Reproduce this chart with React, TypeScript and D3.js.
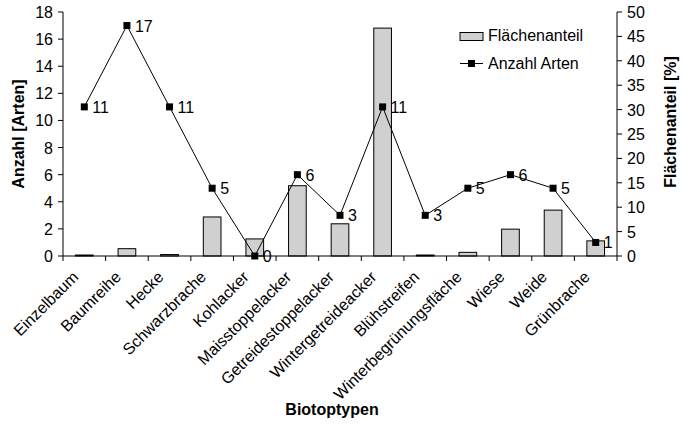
import React from "react";
import * as d3 from "d3";

const categories = [
  "Einzelbaum", "Baumreihe", "Hecke", "Schwarzbrache", "Kohlacker", "Maisstoppelacker",
  "Getreidestoppelacker", "Wintergetreideacker", "Blühstreifen", "Winterbegrünungsfläche",
  "Wiese", "Weide", "Grünbrache",
];
const flaechenanteil = [0.2, 1.5, 0.3, 8.0, 3.5, 14.4, 6.6, 46.7, 0.2, 0.75, 5.5, 9.4, 3.1];
const anzahlArten = [11, 17, 11, 5, 0, 6, 3, 11, 3, 5, 6, 5, 1];
const leftTicks = [0, 2, 4, 6, 8, 10, 12, 14, 16, 18];
const rightTicks = [0, 5, 10, 15, 20, 25, 30, 35, 40, 45, 50];

const W = 684, H = 428;
const L = 63, R = 617, T = 12, B = 256;
const FONT = "Liberation Sans, Arial, sans-serif";
const FS = 16;

export default function App() {
  const x = d3.scaleBand<string>().domain(categories).range([L, R]).paddingInner(0).paddingOuter(0);
  const yL = d3.scaleLinear().domain([0, 18]).range([B, T]);
  const yR = d3.scaleLinear().domain([0, 50]).range([B, T]);
  const bw = x.bandwidth() * 0.415;
  const cx = (c: string) => (x(c) as number) + x.bandwidth() / 2;
  const line = d3.line<number>().x((_, i) => cx(categories[i])).y((d) => yL(d));

  return (
    <svg width={W} height={H} style={{ position: "absolute", left: 0, top: 0, background: "#fff" }} fontFamily={FONT}>
      <rect x={0} y={0} width={W} height={H} fill="#fff" />
      {/* bars */}
      {flaechenanteil.map((v, i) => (
        <rect key={i} x={cx(categories[i]) - bw / 2} y={yR(v)} width={bw} height={B - yR(v)}
          fill="#d0d0d0" stroke="#000" strokeWidth={1} />
      ))}
      {/* axes */}
      <line x1={L} x2={L} y1={T} y2={B} stroke="#000" />
      <line x1={R} x2={R} y1={T} y2={B} stroke="#000" />
      <line x1={L} x2={R} y1={B} y2={B} stroke="#000" />
      {leftTicks.map((t) => (
        <g key={t}>
          <line x1={L - 5} x2={L} y1={yL(t)} y2={yL(t)} stroke="#000" />
          <text x={L - 10} y={yL(t) + 6} textAnchor="end" fontSize={FS}>{t}</text>
        </g>
      ))}
      {rightTicks.map((t) => (
        <g key={t}>
          <line x1={R} x2={R + 5} y1={yR(t)} y2={yR(t)} stroke="#000" />
          <text x={R + 10} y={yR(t) + 6} textAnchor="start" fontSize={FS}>{t}</text>
        </g>
      ))}
      {categories.map((c, i) => (
        <line key={i} x1={x(c) as number} x2={x(c) as number} y1={B} y2={B + 5} stroke="#000" />
      ))}
      <line x1={R} x2={R} y1={B} y2={B + 5} stroke="#000" />
      {/* x labels */}
      {categories.map((c) => (
        <text key={c} transform={`translate(${cx(c) - 5},${B + 22}) rotate(-45)`} textAnchor="end" fontSize={FS}>{c}</text>
      ))}
      {/* line */}
      <path d={line(anzahlArten) || ""} fill="none" stroke="#000" strokeWidth={1} />
      {anzahlArten.map((v, i) => (
        <g key={i}>
          <rect x={cx(categories[i]) - 3.5} y={yL(v) - 3.5} width={7} height={7} fill="#000" />
          <text x={cx(categories[i]) + 8} y={yL(v) + 6} fontSize={FS}>{v}</text>
        </g>
      ))}
      {/* axis titles */}
      <text transform={`translate(24,134) rotate(-90)`} textAnchor="middle" fontSize={FS} fontWeight="bold">Anzahl [Arten]</text>
      <text transform={`translate(676,122) rotate(-90)`} textAnchor="middle" fontSize={FS} fontWeight="bold">Flächenanteil [%]</text>
      <text x={332} y={415} textAnchor="middle" fontSize={FS} fontWeight="bold">Biotoptypen</text>
      {/* legend */}
      <rect x={460} y={32.5} width={23} height={8} fill="#d0d0d0" stroke="#000" />
      <text x={488} y={41} fontSize={FS}>Flächenanteil</text>
      <line x1={460} x2={483} y1={63.5} y2={63.5} stroke="#000" />
      <rect x={468} y={60} width={7} height={7} fill="#000" />
      <text x={488} y={69} fontSize={FS}>Anzahl Arten</text>
    </svg>
  );
}
